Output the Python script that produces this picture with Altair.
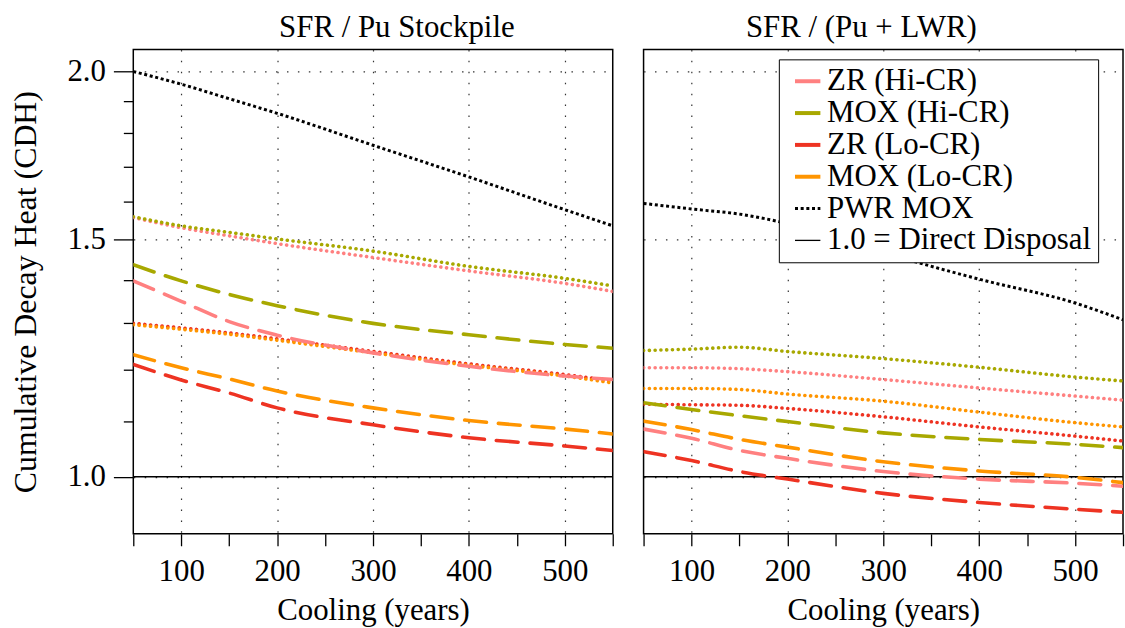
import altair as alt
import pandas as pd

# ---------------- data ----------------
cooling = [50, 100, 150, 200, 300, 400, 500, 550]

series_names = ["ZR (Hi-CR)", "MOX (Hi-CR)", "ZR (Lo-CR)", "MOX (Lo-CR)",
                "PWR MOX", "1.0 = Direct Disposal"]
series_colors = ["#FF8080", "#A8A800", "#EE3322", "#FF9500", "#000000", "#000000"]
series_legend_dash = [[1000, 1], [1000, 1], [1000, 1], [1000, 1], [3, 2.7], [1000, 1]]
series_legend_width = [4, 4, 4, 4, 3, 1.3]
styles = ["dashed", "dotted"]
style_dash = [[22, 12], [0.1, 5.7]]
panel_titles = ["SFR / Pu Stockpile", "SFR / (Pu + LWR)"]

y_ticks = [1.0, 1.1, 1.2, 1.3, 1.4, 1.5, 1.6, 1.7, 1.8, 1.9, 2.0]
x_ticks = [50, 100, 150, 200, 250, 300, 350, 400, 450, 500, 550]

# Left panel: SFR / Pu Stockpile
stock_pwr_mox      = [2.000, 1.957, 1.909, 1.862, 1.763, 1.670, 1.579, 1.536]
stock_mox_hi_dot   = [1.560, 1.536, 1.519, 1.502, 1.471, 1.433, 1.404, 1.386]
stock_zr_hi_dot    = [1.558, 1.531, 1.510, 1.490, 1.455, 1.422, 1.392, 1.373]
stock_mox_hi_dash  = [1.437, 1.398, 1.366, 1.340, 1.300, 1.275, 1.254, 1.246]
stock_zr_hi_dash   = [1.398, 1.350, 1.304, 1.274, 1.236, 1.208, 1.188, 1.181]
stock_mox_lo_dot   = [1.297, 1.287, 1.276, 1.263, 1.236, 1.210, 1.188, 1.174]
stock_zr_lo_dot    = [1.300, 1.290, 1.279, 1.266, 1.239, 1.213, 1.191, 1.178]
stock_mox_lo_dash  = [1.232, 1.205, 1.182, 1.158, 1.125, 1.101, 1.085, 1.076]
stock_zr_lo_dash   = [1.212, 1.180, 1.154, 1.125, 1.093, 1.069, 1.054, 1.046]
stock_direct       = [1.0, 1.0, 1.0, 1.0, 1.0, 1.0, 1.0, 1.0]

# Right panel: SFR / (Pu + LWR)
lwr_pwr_mox        = [1.596, 1.581, 1.567, 1.542, 1.467, 1.402, 1.346, 1.308]
lwr_mox_hi_dot     = [1.241, 1.244, 1.248, 1.239, 1.224, 1.206, 1.186, 1.178]
lwr_zr_hi_dot      = [1.205, 1.205, 1.203, 1.197, 1.181, 1.164, 1.148, 1.140]
lwr_mox_lo_dot     = [1.163, 1.163, 1.161, 1.152, 1.138, 1.117, 1.097, 1.089]
lwr_zr_lo_dot      = [1.132, 1.131, 1.130, 1.124, 1.108, 1.089, 1.072, 1.063]
lwr_mox_hi_dash    = [1.135, 1.122, 1.110, 1.099, 1.078, 1.066, 1.057, 1.051]
lwr_mox_lo_dash    = [1.100, 1.084, 1.066, 1.052, 1.026, 1.010, 0.999, 0.990]
lwr_zr_hi_dash     = [1.085, 1.068, 1.046, 1.032, 1.009, 0.996, 0.989, 0.984]
lwr_zr_lo_dash     = [1.044, 1.028, 1.009, 0.996, 0.972, 0.957, 0.946, 0.941]
lwr_direct         = [1.0, 1.0, 1.0, 1.0, 1.0, 1.0, 1.0, 1.0]


def rows(series, style, values):
    return [{"series": series, "style": style, "cooling": c, "cdh": v}
            for c, v in zip(cooling, values)]


left_fuel = pd.DataFrame(
    rows("ZR (Lo-CR)", "dotted", stock_zr_lo_dot)
    + rows("MOX (Lo-CR)", "dotted", stock_mox_lo_dot)
    + rows("ZR (Hi-CR)", "dotted", stock_zr_hi_dot)
    + rows("MOX (Hi-CR)", "dotted", stock_mox_hi_dot)
    + rows("ZR (Hi-CR)", "dashed", stock_zr_hi_dash)
    + rows("MOX (Hi-CR)", "dashed", stock_mox_hi_dash)
    + rows("ZR (Lo-CR)", "dashed", stock_zr_lo_dash)
    + rows("MOX (Lo-CR)", "dashed", stock_mox_lo_dash)
)
left_ref = pd.DataFrame(
    rows("1.0 = Direct Disposal", "ref", stock_direct)
    + rows("PWR MOX", "ref", stock_pwr_mox)
)
right_fuel = pd.DataFrame(
    rows("ZR (Lo-CR)", "dotted", lwr_zr_lo_dot)
    + rows("MOX (Lo-CR)", "dotted", lwr_mox_lo_dot)
    + rows("ZR (Hi-CR)", "dotted", lwr_zr_hi_dot)
    + rows("MOX (Hi-CR)", "dotted", lwr_mox_hi_dot)
    + rows("ZR (Hi-CR)", "dashed", lwr_zr_hi_dash)
    + rows("MOX (Hi-CR)", "dashed", lwr_mox_hi_dash)
    + rows("ZR (Lo-CR)", "dashed", lwr_zr_lo_dash)
    + rows("MOX (Lo-CR)", "dashed", lwr_mox_lo_dash)
)
right_ref = pd.DataFrame(
    rows("1.0 = Direct Disposal", "ref", lwr_direct)
    + rows("PWR MOX", "ref", lwr_pwr_mox)
)

FONT = "Liberation Serif"
major_y = "abs(datum.value * 2 - round(datum.value * 2)) < 0.001"
grid_x = "datum.value % 100 == 0 && datum.value > 60 && datum.value < 540"

PANEL_W = 482
PANEL_H = 487


def axes(show_y):
    x_axis = alt.Axis(
        values=x_ticks,
        labelExpr="datum.value % 100 == 0 ? datum.label : ''",
        tickSize=12, labelPadding=11, titlePadding=9,
        title="Cooling (years)",
        grid=True,
        gridOpacity={"condition": {"test": grid_x, "value": 1}, "value": 0},
    )
    if show_y:
        y_axis = alt.Axis(
            values=y_ticks,
            labelExpr=f"{major_y} ? format(datum.value, '.1f') : ''",
            tickSize={"condition": {"test": major_y, "value": 20}, "value": 10},
            labelPadding=8, titlePadding=25, titleFontSize=32,
            title="Cumulative Decay Heat (CDH)",
            grid=True,
            gridOpacity={"condition": {"test": major_y, "value": 1}, "value": 0},
        )
    else:
        y_axis = alt.Axis(
            values=y_ticks, labels=False, ticks=False, title=None,
            grid=True,
            gridOpacity={"condition": {"test": major_y, "value": 1}, "value": 0},
        )
    return x_axis, y_axis


def make_panel(fuel_df, ref_df, title, dx, show_y, legend):
    x_axis, y_axis = axes(show_y)
    xenc = alt.X("cooling:Q", scale=alt.Scale(domain=[50, 550], nice=False, zero=False),
                 axis=x_axis)
    yenc = alt.Y("cdh:Q", scale=alt.Scale(type="log", domain=[0.907, 2.077], nice=False),
                 axis=y_axis)
    color_scale = alt.Scale(domain=series_names, range=series_colors)

    ref_layer = alt.Chart(ref_df).mark_line(
        interpolate="monotone", strokeCap="butt", clip=True
    ).encode(
        x=xenc, y=yenc,
        color=alt.Color("series:N", scale=color_scale, legend=legend),
        strokeDash=alt.StrokeDash("series:N",
                                  scale=alt.Scale(domain=series_names, range=series_legend_dash),
                                  legend=legend),
        strokeWidth=alt.StrokeWidth("series:N",
                                    scale=alt.Scale(type="ordinal", domain=series_names,
                                                    range=series_legend_width),
                                    legend=legend),
    )
    fuel_layer = alt.Chart(fuel_df).mark_line(
        interpolate="monotone", strokeCap="round", clip=True, strokeWidth=3.6
    ).encode(
        x=xenc, y=yenc,
        color=alt.Color("series:N", scale=color_scale, legend=None),
        strokeDash=alt.StrokeDash("style:N",
                                  scale=alt.Scale(domain=styles, range=style_dash),
                                  legend=None),
    )
    return alt.layer(ref_layer, fuel_layer).resolve_scale(
        color="independent", strokeDash="independent", strokeWidth="independent"
    ).properties(
        width=PANEL_W, height=PANEL_H,
        title=alt.TitleParams(title, fontSize=31, font=FONT, fontWeight="normal",
                              color="black", anchor="middle", dx=dx, offset=5),
    )


legend = alt.Legend(
    title=None, orient="none", legendX=136, legendY=10,
    labelFont=FONT, labelFontSize=31, labelColor="black", labelLimit=400,
    labelOffset=4, symbolType="stroke", symbolSize=650,
    symbolOffset=7, padding=6.5, rowPadding=0,
    strokeColor="black", fillColor="white",
)

left = make_panel(left_fuel, left_ref, panel_titles[0], 24, True, None)
right = make_panel(right_fuel, right_ref, panel_titles[1], -22, False, legend)

chart = alt.hconcat(left, right, spacing=27).resolve_scale(
    color="independent", strokeDash="independent", strokeWidth="independent"
).properties(
    padding={"left": 8, "top": 10, "right": 0, "bottom": 0}
).configure(font=FONT).configure_view(
    stroke="black", strokeWidth=1.5
).configure_axis(
    labelFont=FONT, titleFont=FONT, labelFontSize=31, titleFontSize=31,
    titleFontWeight="normal", labelColor="black", titleColor="black",
    tickColor="black", tickWidth=1.3, domain=False,
    gridColor="#333333", gridDash=[1.5, 9.5], gridWidth=1.2,
)

chart.save("out.html", embed_options={"renderer": "svg", "actions": False})
